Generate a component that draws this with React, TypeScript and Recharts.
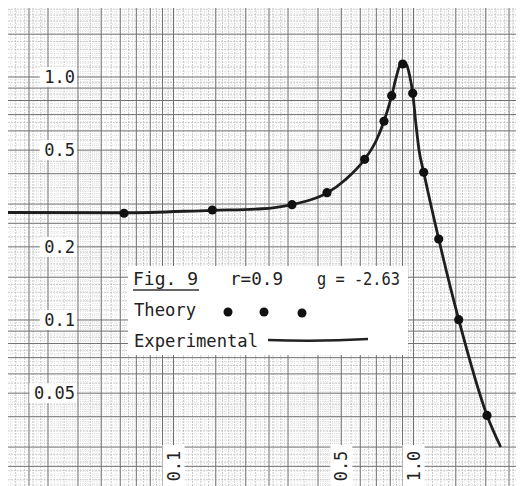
import React from 'react';
import { ComposedChart, Line, Scatter, XAxis, YAxis, ReferenceLine, Legend } from 'recharts';

// Theory points (dots)
const theoryX = [0.0622, 0.1451, 0.3117, 0.436, 0.6259, 0.7535, 0.8112, 0.9016, 0.9924, 1.1027, 1.2735, 1.543, 2.024];
const theoryY = [0.2749, 0.2836, 0.2982, 0.3342, 0.4585, 0.6573, 0.8375, 1.131, 0.8568, 0.4054, 0.2154, 0.1003, 0.0405];

// Experimental curve
const expX = [0.02044, 0.0622, 0.145, 0.2337, 0.3117, 0.3705, 0.436, 0.5184, 0.6259, 0.6978, 0.7535, 0.8112, 0.8455, 0.8743, 0.9016, 0.9306, 0.9624, 0.9924, 1.0243, 1.0542, 1.1027, 1.2735, 1.543, 2.024, 2.3083];
const expY = [0.2769, 0.2762, 0.2828, 0.2869, 0.2987, 0.3117, 0.3332, 0.3768, 0.4585, 0.5452, 0.6573, 0.8375, 0.9906, 1.1099, 1.1527, 1.131, 1.019, 0.8568, 0.6345, 0.5005, 0.4054, 0.2154, 0.1003, 0.0405, 0.03002];

const xTicks = [0.1, 0.5, 1.0];
const xTickLabels = ['0.1', '0.5', '1.0'];
const yTicks = [0.05, 0.1, 0.2, 0.5, 1.0];
const yTickLabels = ['0.05', '0.1', '0.2', '0.5', '1.0'];

const X_DOMAIN: [number, number] = [0.02044, 2.886];
const Y_DOMAIN: [number, number] = [0.020746, 1.9223];

const legendTitle = 'Fig. 9';
const legendR = 'r=0.9';
const legendG = 'g = -2.63';
const theoryName = 'Theory';
const expName = 'Experimental';

const CHART_W = 516;
const CHART_H = 478;
const FONT = '"DejaVu Sans Mono", "Liberation Mono", monospace';

// log graph paper rulings (multipliers within each decade)
const decades = [0.01, 0.1, 1];
const majorMult = [1, 1.5, 2, 2.5, 3, 4, 5, 6, 7, 8, 9];
const midMult = [1.1, 1.2, 1.3, 1.4, 1.6, 1.7, 1.8, 1.9, 2.2, 2.4, 2.6, 2.8, 3.5, 4.5, 5.5, 6.5, 7.5, 8.5, 9.5];
const fineMult: number[] = [];
for (let i = 0; i < 10; i++) fineMult.push(1.05 + i * 0.1);
[2.1, 2.3, 2.7, 2.9].forEach((v) => fineMult.push(v));
for (let b = 3; b < 5; b++) [0.1, 0.2, 0.3, 0.4, 0.6, 0.7, 0.8, 0.9].forEach((f) => fineMult.push(b + f));
for (let b = 5; b < 10; b++) [0.25, 0.75].forEach((f) => fineMult.push(b + f));

const expand = (mult: number[]) => {
  const out: number[] = [];
  decades.forEach((d) => mult.forEach((m) => out.push(+(d * m).toPrecision(6))));
  out.push(10);
  return out;
};
const majorVals = expand(majorMult);
const midVals = expand(midMult);
const fineVals = expand(fineMult);

const theoryData = theoryX.map((x, i) => ({ x, y: theoryY[i] }));
const expData = expX.map((x, i) => ({ x, y: expY[i] }));

const YTick = (props: any) => {
  const { y, payload } = props;
  const idx = yTicks.indexOf(payload.value);
  const label = yTickLabels[idx] ?? String(payload.value);
  const right = 69;
  const w = label.length * 10.4 + 6;
  return (
    <g>
      <rect x={right - w} y={y - 10} width={w} height={20} fill="#fff" />
      <text x={right - 2} y={y} dy="0.36em" textAnchor="end" fontFamily={FONT} fontSize={17} fill="#222">
        {label}
      </text>
    </g>
  );
};

const XTick = (props: any) => {
  const { x, payload } = props;
  const idx = xTicks.indexOf(payload.value);
  const label = xTickLabels[idx] ?? String(payload.value);
  const yc = CHART_H - 20;
  return (
    <g>
      <rect x={x - 11} y={yc - 21} width={22} height={42} fill="#fff" />
      <text
        x={x}
        y={yc}
        dy="0.36em"
        textAnchor="middle"
        fontFamily={FONT}
        fontSize={17}
        fill="#222"
        transform={`rotate(-90 ${x} ${yc})`}
      >
        {label}
      </text>
    </g>
  );
};

const LegendBox = () => (
  <svg width={280} height={89} style={{ display: 'block', background: '#fff' }}>
    <text x={5} y={19} fontFamily={FONT} fontSize={17} fill="#222" textLength={65} lengthAdjust="spacingAndGlyphs">
      {legendTitle}
    </text>
    <line x1={5} y1={24} x2={71} y2={24} stroke="#333" strokeWidth={1.5} />
    <text x={102} y={19} fontFamily={FONT} fontSize={17} fill="#222" textLength={53} lengthAdjust="spacingAndGlyphs">
      {legendR}
    </text>
    <text x={189} y={19} fontFamily={FONT} fontSize={17} fill="#222" textLength={83} lengthAdjust="spacingAndGlyphs">
      {legendG}
    </text>
    <text x={6} y={50} fontFamily={FONT} fontSize={17} fill="#222" textLength={62} lengthAdjust="spacingAndGlyphs">
      {theoryName}
    </text>
    <circle cx={100} cy={46} r={4.5} fill="#111" />
    <circle cx={136} cy={46} r={4.5} fill="#111" />
    <circle cx={174} cy={47} r={4.5} fill="#111" />
    <text x={6} y={81} fontFamily={FONT} fontSize={17} fill="#222" textLength={124} lengthAdjust="spacingAndGlyphs">
      {expName}
    </text>
    <path d="M140 74 Q190 76 240 73" stroke="#222" strokeWidth={2.6} fill="none" />
  </svg>
);

export default function App() {
  return (
    <div style={{ width: CHART_W, height: CHART_H, background: '#fff' }}>
      <ComposedChart width={CHART_W} height={CHART_H} margin={{ top: 0, right: 0, bottom: 0, left: 0 }}>
        {fineVals.map((v) => (
          <ReferenceLine key={'fx' + v} x={v} stroke="#d2d2d2" strokeWidth={0.7} strokeDasharray="1 1" />
        ))}
        {fineVals.map((v) => (
          <ReferenceLine key={'fy' + v} y={v} stroke="#d2d2d2" strokeWidth={0.7} strokeDasharray="1 1" />
        ))}
        {midVals.map((v) => (
          <ReferenceLine key={'mx' + v} x={v} stroke="#b4b4b4" strokeWidth={0.7} strokeDasharray="2 1" />
        ))}
        {midVals.map((v) => (
          <ReferenceLine key={'my' + v} y={v} stroke="#b4b4b4" strokeWidth={0.7} strokeDasharray="2 1" />
        ))}
        {majorVals.map((v) => (
          <ReferenceLine key={'Mx' + v} x={v} stroke="#6e6e6e" strokeWidth={1} />
        ))}
        {majorVals.map((v) => (
          <ReferenceLine key={'My' + v} y={v} stroke="#6e6e6e" strokeWidth={1} />
        ))}
        <XAxis
          dataKey="x"
          type="number"
          scale="log"
          domain={X_DOMAIN}
          allowDataOverflow
          ticks={xTicks}
          interval={0}
          height={40}
          mirror
          axisLine={false}
          tickLine={false}
          tick={<XTick />}
        />
        <YAxis
          dataKey="y"
          type="number"
          scale="log"
          domain={Y_DOMAIN}
          allowDataOverflow
          ticks={yTicks}
          interval={0}
          width={70}
          mirror
          axisLine={false}
          tickLine={false}
          tick={<YTick />}
        />
        <Line
          data={expData}
          dataKey="y"
          type="monotone"
          stroke="#1e1e1e"
          strokeWidth={2.8}
          dot={false}
          activeDot={false}
          isAnimationActive={false}
        />
        <Scatter
          data={theoryData}
          dataKey="y"
          isAnimationActive={false}
          shape={(p: any) => <circle cx={p.cx} cy={p.cy} r={4.6} fill="#111" />}
        />
        <Legend
          layout="horizontal"
          verticalAlign="middle"
          align="center"
          wrapperStyle={{ position: 'absolute', left: 120, top: 258, width: 280, height: 89, margin: 0 }}
          content={() => <LegendBox />}
        />
      </ComposedChart>
    </div>
  );
}
